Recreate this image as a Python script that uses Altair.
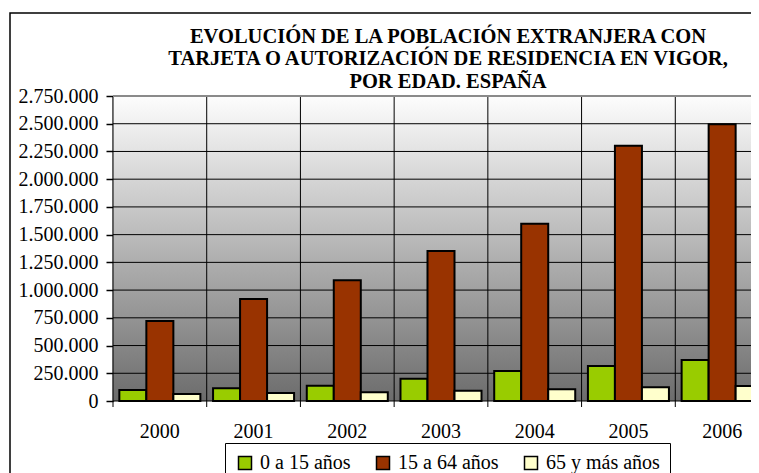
import altair as alt
import pandas as pd

years = ["2000", "2001", "2002", "2003", "2004", "2005", "2006"]
groups = ["0 a 15 años", "15 a 64 años", "65 y más años"]
ninos = [100000, 114000, 138000, 201000, 270000, 315000, 370000]
adultos = [722000, 920000, 1088000, 1353000, 1599000, 2302000, 2495000]
mayores = [63000, 72000, 78000, 93000, 105000, 123000, 135000]
colors = ["#99cc00", "#993300", "#ffffcc"]
y_ticks = [0, 250000, 500000, 750000, 1000000, 1250000, 1500000, 1750000,
           2000000, 2250000, 2500000, 2750000]
title_lines = [
    "EVOLUCIÓN DE LA POBLACIÓN EXTRANJERA CON",
    "TARJETA O AUTORIZACIÓN DE RESIDENCIA EN VIGOR,",
    "POR EDAD. ESPAÑA",
]

rows = []
for i, y in enumerate(years):
    for g, vals in zip(groups, [ninos, adultos, mayores]):
        rows.append({"year": y, "group": g, "value": vals[i]})
df = pd.DataFrame(rows)

FONT = "Times New Roman, Liberation Serif, Times, DejaVu Serif, serif"
W, H = 638, 305

xscale = alt.Scale(domain=years, range=[0, 656], paddingInner=0, paddingOuter=0)
yscale = alt.Scale(domain=[0, 2750000], nice=False, zero=True)

xaxis = alt.Axis(title=None, labelAngle=0, labelFont=FONT, labelFontSize=20,
                 labelColor="black", ticks=False, domain=False, grid=False,
                 labelPadding=20)
yaxis = alt.Axis(title=None, values=y_ticks,
                 labelExpr="replace(replace(format(datum.value, ','), ',', '.'), ',', '.')",
                 labelFont=FONT, labelFontSize=20, labelColor="black",
                 tickColor="black", tickSize=7, tickWidth=1.5,
                 domainColor="black", domainWidth=1.5, labelPadding=8, grid=False)

one = pd.DataFrame({"a": [0]})

grad = alt.LinearGradient(
    gradient="linear",
    stops=[alt.GradientStop(color="#fdfdfd", offset=0),
           alt.GradientStop(color="#6c6c6c", offset=1)],
    x1=0, x2=0, y1=0, y2=1,
)

bg = alt.Chart(one).mark_rect(fill=grad).encode(
    x=alt.value(0), x2=alt.value(660), y=alt.value(0), y2=alt.value(H)
)

hgrid = alt.Chart(pd.DataFrame({"v": y_ticks[:-1]})).mark_rule(
    color="black", strokeWidth=1
).encode(y=alt.Y("v:Q", scale=yscale, axis=yaxis))

vgrid = alt.Chart(pd.DataFrame({"year": years})).mark_rule(
    color="black", strokeWidth=1
).encode(
    x=alt.X("year:N", scale=xscale, axis=xaxis, bandPosition=0),
    y=alt.value(0), y2=alt.value(H + 6),
)

legend = alt.Legend(
    title=None, orient="none", legendX=112, legendY=347, direction="horizontal",
    strokeColor="black", fillColor="white", padding=10,
    symbolType="square", symbolSize=169, symbolStrokeColor="black",
    symbolStrokeWidth=1.5, symbolOpacity=1, labelFont=FONT, labelFontSize=20,
    labelColor="black", labelOffset=5, columnPadding=22,
)

bars = alt.Chart(df).mark_bar(stroke="black", strokeWidth=2, opacity=1).encode(
    x=alt.X("year:N", scale=xscale, axis=xaxis),
    xOffset=alt.XOffset("group:N", sort=groups,
                        scale=alt.Scale(domain=groups, paddingInner=0, paddingOuter=0.235)),
    y=alt.Y("value:Q", scale=yscale, axis=yaxis),
    color=alt.Color("group:N", scale=alt.Scale(domain=groups, range=colors),
                    legend=legend),
)

toprule = alt.Chart(one).mark_rule(color="#8a8a8a", strokeWidth=2).encode(
    x=alt.value(0), x2=alt.value(660), y=alt.value(0)
)

frame = alt.Chart(one).mark_rect(filled=False, stroke="black", strokeWidth=1.5).encode(
    x=alt.value(-103), x2=alt.value(2000), y=alt.value(-83), y2=alt.value(2000)
)

title_y = [-52.7, -31, -8.5]
title_layers = [
    alt.Chart(one).mark_text(font=FONT, fontSize=20.5, fontWeight="bold",
                             color="black", align="center", baseline="alphabetic").encode(
        text=alt.value(t), x=alt.value(335), y=alt.value(ty))
    for t, ty in zip(title_lines, title_y)
]

chart = alt.layer(bg, hgrid, vgrid, bars, toprule, frame, *title_layers).properties(
    width=W, height=H,
    padding={"left": 105, "top": 88, "right": 0, "bottom": 72},
    autosize=alt.AutoSizeParams(type="none"),
    background="white",
).configure_view(stroke="transparent")

chart.save("out.html", embed_options={"renderer": "svg", "actions": False})
